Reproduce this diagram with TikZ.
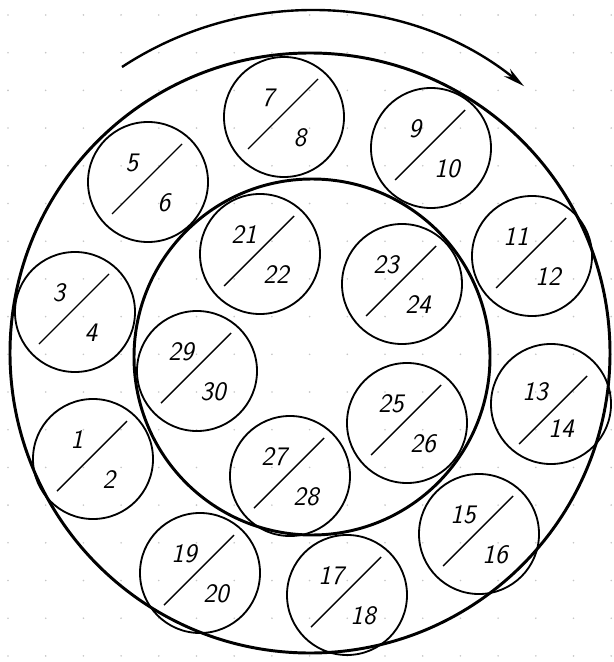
\documentclass[tikz,border=0pt]{standalone}
\usepackage{tikz}
\usetikzlibrary{arrows.meta, positioning}

\begin{document}
\begin{tikzpicture}[x=0.025cm, y=-0.025cm,
    disk/.style={draw, circle, minimum size=3cm, inner sep=0pt, line width=1.3pt},
    num/.style={font=\fontsize{19}{19}\selectfont\sffamily\itshape, inner sep=0pt},
    slash/.style={line width=1pt},
    ring/.style={line width=2.1pt},
    turn/.style={-{Stealth[length=5.5mm, width=2.4mm]}, line width=1.7pt},
    dotgrid/.style={gray!45},
]
  \useasboundingbox (0,0) rectangle (613,662);
  % graph paper dots
  \foreach \i in {0,...,16} \foreach \j in {0,...,17}
    \fill[dotgrid] (8+37.7*\i, 15+37.7*\j) circle[radius=0.9];

  \draw[ring] (310,353) circle[radius=300];
  \draw[ring] (312,357) circle[radius=178];
  \draw[turn] (122,67) arc[start angle=123.3, end angle=51.2, radius=8.55cm];

  % outer row
  \node[disk] (c1) at (93,459) {};
  \node[num] (n1) at ([shift={(-16,-19)}]c1.center) {1};
  \node[num] (n2) at ([shift={(16,21)}]c1.center) {2};
  \draw[slash] ([shift={(-36,32)}]c1.center) -- ([shift={(34,-38)}]c1.center);

  \node[disk] (c2) at (75,312) {};
  \node[num] (n3) at ([shift={(-16,-19)}]c2.center) {3};
  \node[num] (n4) at ([shift={(16,21)}]c2.center) {4};
  \draw[slash] ([shift={(-36,32)}]c2.center) -- ([shift={(34,-38)}]c2.center);

  \node[disk] (c3) at (148,182) {};
  \node[num] (n5) at ([shift={(-16,-19)}]c3.center) {5};
  \node[num] (n6) at ([shift={(16,21)}]c3.center) {6};
  \draw[slash] ([shift={(-36,32)}]c3.center) -- ([shift={(34,-38)}]c3.center);

  \node[disk] (c4) at (284,117) {};
  \node[num] (n7) at ([shift={(-16,-19)}]c4.center) {7};
  \node[num] (n8) at ([shift={(16,21)}]c4.center) {8};
  \draw[slash] ([shift={(-36,32)}]c4.center) -- ([shift={(34,-38)}]c4.center);

  \node[disk] (c5) at (431,148) {};
  \node[num] (n9) at ([shift={(-16,-19)}]c5.center) {9};
  \node[num] (n10) at ([shift={(16,21)}]c5.center) {10};
  \draw[slash] ([shift={(-36,32)}]c5.center) -- ([shift={(34,-38)}]c5.center);

  \node[disk] (c6) at (532,256) {};
  \node[num] (n11) at ([shift={(-16,-19)}]c6.center) {11};
  \node[num] (n12) at ([shift={(16,21)}]c6.center) {12};
  \draw[slash] ([shift={(-36,32)}]c6.center) -- ([shift={(34,-38)}]c6.center);

  \node[disk] (c7) at (551,404) {};
  \node[num] (n13) at ([shift={(-16,-12)}]c7.center) {13};
  \node[num] (n14) at ([shift={(10,25)}]c7.center) {14};
  \draw[slash] ([shift={(-32,40)}]c7.center) -- ([shift={(36,-28)}]c7.center);

  \node[disk] (c8) at (479,534) {};
  \node[num] (n15) at ([shift={(-16,-19)}]c8.center) {15};
  \node[num] (n16) at ([shift={(16,21)}]c8.center) {16};
  \draw[slash] ([shift={(-36,32)}]c8.center) -- ([shift={(34,-38)}]c8.center);

  \node[disk] (c9) at (347,595) {};
  \node[num] (n17) at ([shift={(-16,-19)}]c9.center) {17};
  \node[num] (n18) at ([shift={(16,21)}]c9.center) {18};
  \draw[slash] ([shift={(-36,32)}]c9.center) -- ([shift={(34,-38)}]c9.center);

  \node[disk] (c10) at (200,573) {};
  \node[num] (n19) at ([shift={(-16,-19)}]c10.center) {19};
  \node[num] (n20) at ([shift={(16,21)}]c10.center) {20};
  \draw[slash] ([shift={(-36,32)}]c10.center) -- ([shift={(34,-38)}]c10.center);

  % inner row
  \node[disk] (c11) at (260,254) {};
  \node[num] (n21) at ([shift={(-16,-19)}]c11.center) {21};
  \node[num] (n22) at ([shift={(16,21)}]c11.center) {22};
  \draw[slash] ([shift={(-36,32)}]c11.center) -- ([shift={(34,-38)}]c11.center);

  \node[disk] (c12) at (402,284) {};
  \node[num] (n23) at ([shift={(-16,-19)}]c12.center) {23};
  \node[num] (n24) at ([shift={(16,21)}]c12.center) {24};
  \draw[slash] ([shift={(-36,32)}]c12.center) -- ([shift={(34,-38)}]c12.center);

  \node[disk] (c13) at (407,423) {};
  \node[num] (n25) at ([shift={(-16,-19)}]c13.center) {25};
  \node[num] (n26) at ([shift={(16,21)}]c13.center) {26};
  \draw[slash] ([shift={(-36,32)}]c13.center) -- ([shift={(34,-38)}]c13.center);

  \node[disk] (c14) at (290,476) {};
  \node[num] (n27) at ([shift={(-16,-19)}]c14.center) {27};
  \node[num] (n28) at ([shift={(16,21)}]c14.center) {28};
  \draw[slash] ([shift={(-36,32)}]c14.center) -- ([shift={(34,-38)}]c14.center);

  \node[disk] (c15) at (197,371) {};
  \node[num] (n29) at ([shift={(-16,-19)}]c15.center) {29};
  \node[num] (n30) at ([shift={(16,21)}]c15.center) {30};
  \draw[slash] ([shift={(-36,32)}]c15.center) -- ([shift={(34,-38)}]c15.center);
\end{tikzpicture}
\end{document}
